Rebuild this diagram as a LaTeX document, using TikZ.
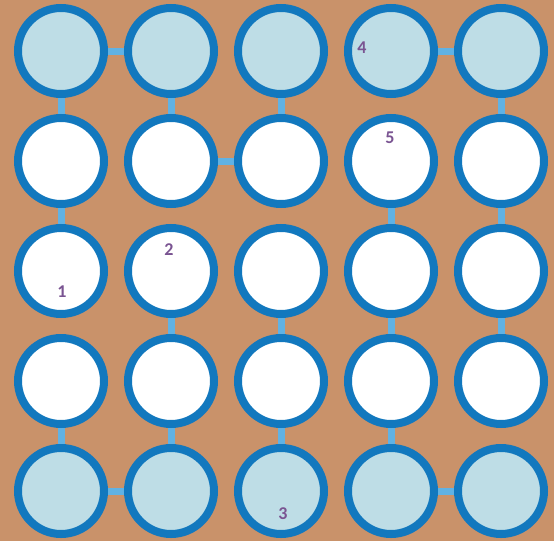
\documentclass[tikz,border=0pt]{standalone}
\usepackage{fontspec}
\setmainfont{Carlito}
\definecolor{bgbrown}{RGB}{201,146,106}
\definecolor{ringblue}{RGB}{18,120,190}
\definecolor{paleblue}{RGB}{190,221,230}
\definecolor{linkblue}{RGB}{96,178,228}
\definecolor{labpurple}{RGB}{122,84,146}
\begin{document}
\begin{tikzpicture}[x=1pt,y=-1pt,
  ring/.style={circle,draw=ringblue,line width=8pt,minimum size=86pt,inner sep=0pt,fill=white},
  endring/.style={ring,fill=paleblue},
  link/.style={draw=linkblue,line width=7pt},
  lab/.style={text=labpurple,font=\fontsize{18}{18}\selectfont\bfseries,inner sep=0pt}]
\fill[bgbrown] (0,0) rectangle (554,541);
\useasboundingbox (0,0) rectangle (554,541);
% links first (behind circles)
\foreach \r/\y in {1/51,2/161,3/271,4/381,5/491}{
  \foreach \c/\x in {1/61,2/171,3/281,4/391,5/501}{
    \coordinate (p\r\c) at (\x,\y);
  }
}
\foreach \a/\b in {11/12,14/15,22/23,51/52,54/55,
                   11/21,21/31,41/51,12/22,32/42,42/52,13/23,33/43,43/53,
                   24/34,34/44,44/54,15/25,25/35,35/45}{
  \draw[link] (p\a) -- (p\b);
}
\foreach \r in {1,5}{
  \foreach \c in {1,...,5}{
    \node[endring] (c\r\c) at (p\r\c) {};
  }
}
\foreach \r in {2,3,4}{
  \foreach \c in {1,...,5}{
    \node[ring] (c\r\c) at (p\r\c) {};
  }
}
\node[lab] (l1) at (62,292) {1};
\node[lab] (l2) at (169,250) {2};
\node[lab] (l3) at (283,514) {3};
\node[lab] (l4) at (362,48) {4};
\node[lab] (l5) at (390,138) {5};
\end{tikzpicture}
\end{document}
